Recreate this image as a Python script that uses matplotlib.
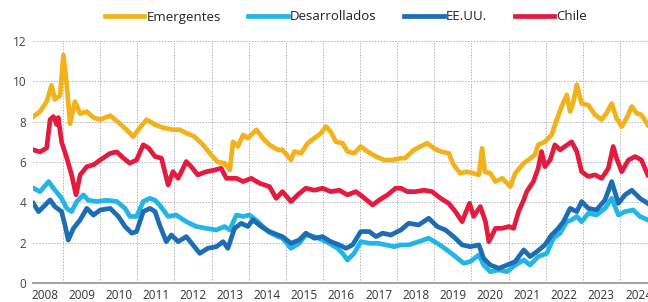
import matplotlib.pyplot as plt
import matplotlib.ticker as mticker

plt.rcParams['font.family'] = ['Open Sans', 'DejaVu Sans']

# spreads (%), x in fractional years
emerg_x = [2008.20, 2008.38, 2008.56, 2008.69, 2008.78, 2008.92, 2009.01, 2009.10, 2009.19, 2009.32,
           2009.46, 2009.64, 2009.82, 2010.00, 2010.27, 2010.53, 2010.71, 2010.89, 2011.07, 2011.25,
           2011.48, 2011.69, 2011.96, 2012.14, 2012.32, 2012.54, 2012.77, 2012.99, 2013.17, 2013.35,
           2013.49, 2013.58, 2013.71, 2013.85, 2013.98, 2014.21, 2014.38, 2014.56, 2014.79, 2014.91,
           2015.14, 2015.23, 2015.41, 2015.59, 2015.77, 2015.95, 2016.08, 2016.21, 2016.35, 2016.53,
           2016.66, 2016.84, 2017.02, 2017.20, 2017.43, 2017.65, 2017.87, 2018.10, 2018.22, 2018.45,
           2018.63, 2018.81, 2018.99, 2019.17, 2019.39, 2019.52, 2019.70, 2019.88, 2020.06, 2020.20,
           2020.29, 2020.36, 2020.51, 2020.65, 2020.83, 2021.05, 2021.18, 2021.41, 2021.53, 2021.71,
           2021.80, 2021.98, 2022.16, 2022.30, 2022.43, 2022.57, 2022.66, 2022.75, 2022.84, 2022.97,
           2023.15, 2023.33, 2023.51, 2023.64, 2023.78, 2023.91, 2024.05, 2024.18, 2024.32, 2024.45,
           2024.58, 2024.75]
emerg_y = [8.25, 8.5, 9.0, 9.8, 9.1, 9.3, 11.3, 9.8, 7.9, 9.0,
           8.4, 8.5, 8.2, 8.1, 8.3, 7.9, 7.6, 7.26, 7.7, 8.1,
           7.85, 7.7, 7.6, 7.6, 7.43, 7.26, 6.85, 6.35, 6.0, 5.94,
           5.6, 7.0, 6.77, 7.34, 7.18, 7.6, 7.18, 6.85, 6.6, 6.6,
           6.1, 6.52, 6.43, 6.93, 7.18, 7.43, 7.76, 7.5, 7.0, 6.93,
           6.52, 6.43, 6.77, 6.52, 6.27, 6.1, 6.1, 6.19, 6.19, 6.6,
           6.77, 6.93, 6.68, 6.52, 6.43, 5.86, 5.44, 5.52, 5.44, 5.36,
           6.68, 5.52, 5.44, 5.03, 5.19, 4.78, 5.44, 5.94, 6.1, 6.35,
           6.85, 7.0, 7.34, 8.1, 8.75, 9.33, 8.5, 9.0, 9.83, 8.9,
           8.82, 8.34, 8.1, 8.42, 8.9, 8.17, 7.76, 8.17, 8.75, 8.42,
           8.34, 7.84]

desarr_x = [2008.20, 2008.38, 2008.61, 2008.74, 2008.83, 2008.96, 2009.10, 2009.23, 2009.37, 2009.55,
            2009.68, 2009.91, 2010.18, 2010.45, 2010.67, 2010.80, 2010.98, 2011.16, 2011.34, 2011.48,
            2011.60, 2011.83, 2012.05, 2012.32, 2012.59, 2012.86, 2013.13, 2013.35, 2013.49, 2013.67,
            2013.85, 2014.02, 2014.25, 2014.52, 2014.79, 2014.91, 2015.14, 2015.36, 2015.54, 2015.77,
            2015.99, 2016.17, 2016.39, 2016.53, 2016.66, 2016.84, 2017.02, 2017.25, 2017.47, 2017.70,
            2017.92, 2018.10, 2018.31, 2018.58, 2018.85, 2019.08, 2019.34, 2019.57, 2019.79, 2019.97,
            2020.20, 2020.33, 2020.51, 2020.74, 2020.96, 2021.18, 2021.41, 2021.58, 2021.80, 2022.03,
            2022.21, 2022.39, 2022.57, 2022.70, 2022.84, 2022.97, 2023.15, 2023.37, 2023.60, 2023.78,
            2023.96, 2024.14, 2024.36, 2024.54, 2024.75]
desarr_y = [4.7, 4.53, 5.03, 4.7, 4.5, 4.2, 3.7, 3.54, 4.04, 4.37,
            4.1, 4.04, 4.1, 4.04, 3.7, 3.3, 3.3, 4.04, 4.2, 4.1,
            3.87, 3.3, 3.37, 3.04, 2.8, 2.71, 2.63, 2.8, 2.63, 3.37,
            3.3, 3.37, 3.04, 2.55, 2.3, 2.22, 1.72, 1.97, 2.38, 2.3,
            2.13, 1.97, 1.72, 1.47, 1.14, 1.47, 2.05, 1.97, 1.97, 1.89,
            1.8, 1.89, 1.89, 2.05, 2.22, 1.97, 1.64, 1.31, 0.98, 1.06,
            1.39, 0.89, 0.56, 0.65, 0.56, 0.89, 1.14, 0.89, 1.31, 1.47,
            2.22, 2.47, 3.04, 3.13, 3.3, 3.04, 3.46, 3.37, 3.7, 4.2,
            3.37, 3.54, 3.62, 3.3, 3.13]

eeuu_x = [2008.20, 2008.34, 2008.52, 2008.65, 2008.78, 2008.96, 2009.05, 2009.14, 2009.28, 2009.46,
          2009.64, 2009.82, 2010.00, 2010.27, 2010.49, 2010.67, 2010.85, 2010.98, 2011.16, 2011.34,
          2011.48, 2011.60, 2011.78, 2011.92, 2012.10, 2012.32, 2012.50, 2012.68, 2012.90, 2013.13,
          2013.31, 2013.44, 2013.62, 2013.80, 2013.98, 2014.11, 2014.34, 2014.56, 2014.79, 2014.91,
          2015.14, 2015.36, 2015.54, 2015.77, 2015.99, 2016.21, 2016.44, 2016.62, 2016.80, 2017.02,
          2017.25, 2017.43, 2017.61, 2017.83, 2018.10, 2018.31, 2018.58, 2018.85, 2019.08, 2019.30,
          2019.52, 2019.75, 2019.97, 2020.20, 2020.33, 2020.51, 2020.74, 2020.96, 2021.18, 2021.41,
          2021.58, 2021.76, 2021.98, 2022.16, 2022.34, 2022.48, 2022.66, 2022.84, 2022.97, 2023.15,
          2023.37, 2023.60, 2023.78, 2023.96, 2024.14, 2024.32, 2024.54, 2024.75]
eeuu_y = [3.95, 3.54, 3.87, 4.12, 3.79, 3.54, 2.88, 2.13, 2.71, 3.13,
          3.7, 3.37, 3.62, 3.7, 3.3, 2.8, 2.47, 2.55, 3.54, 3.7,
          3.54, 2.88, 2.05, 2.38, 2.05, 2.3, 1.89, 1.47, 1.72, 1.8,
          2.05, 1.72, 2.71, 2.96, 2.8, 3.13, 2.8, 2.55, 2.38, 2.3,
          1.97, 2.13, 2.47, 2.22, 2.3, 2.05, 1.89, 1.72, 1.89, 2.55,
          2.55, 2.3, 2.47, 2.38, 2.63, 2.96, 2.88, 3.21, 2.8, 2.63,
          2.3, 1.89, 1.8, 1.89, 1.22, 0.89, 0.73, 0.89, 1.06, 1.64,
          1.31, 1.55, 1.89, 2.38, 2.71, 3.04, 3.7, 3.54, 4.04, 3.7,
          3.62, 4.12, 5.03, 3.95, 4.37, 4.6, 4.2, 3.95]

chile_x = [2008.20, 2008.38, 2008.56, 2008.65, 2008.74, 2008.83, 2008.87, 2008.96, 2009.10, 2009.23,
           2009.35, 2009.46, 2009.64, 2009.82, 2010.00, 2010.27, 2010.45, 2010.62, 2010.80, 2010.98,
           2011.16, 2011.30, 2011.48, 2011.65, 2011.83, 2011.96, 2012.10, 2012.32, 2012.45, 2012.63,
           2012.86, 2013.08, 2013.26, 2013.40, 2013.67, 2013.85, 2014.07, 2014.29, 2014.56, 2014.74,
           2014.91, 2015.14, 2015.32, 2015.54, 2015.77, 2015.99, 2016.21, 2016.44, 2016.66, 2016.89,
           2017.07, 2017.34, 2017.52, 2017.74, 2017.96, 2018.10, 2018.27, 2018.49, 2018.72, 2018.94,
           2019.17, 2019.39, 2019.57, 2019.75, 2019.84, 2019.95, 2020.06, 2020.24, 2020.38, 2020.47,
           2020.65, 2020.83, 2021.01, 2021.14, 2021.27, 2021.41, 2021.49, 2021.67, 2021.80, 2021.89,
           2021.98, 2022.12, 2022.25, 2022.39, 2022.52, 2022.70, 2022.84, 2022.97, 2023.15, 2023.33,
           2023.51, 2023.69, 2023.82, 2023.91, 2024.05, 2024.23, 2024.41, 2024.58, 2024.75]
chile_y = [6.6, 6.5, 6.7, 8.1, 8.25, 7.85, 8.2, 7.0, 6.2, 5.36,
           4.37, 5.36, 5.77, 5.86, 6.1, 6.43, 6.5, 6.2, 5.94, 6.1,
           6.85, 6.7, 6.27, 6.19, 4.86, 5.52, 5.19, 6.02, 5.77, 5.36,
           5.52, 5.6, 5.69, 5.19, 5.19, 5.03, 5.19, 4.95, 4.78, 4.2,
           4.53, 4.04, 4.37, 4.7, 4.6, 4.7, 4.53, 4.6, 4.37, 4.53,
           4.28, 3.87, 4.12, 4.37, 4.7, 4.7, 4.53, 4.53, 4.6, 4.53,
           4.2, 3.95, 3.54, 3.04, 3.46, 3.95, 3.3, 3.79, 3.04, 2.05,
           2.71, 2.71, 2.8, 2.71, 3.54, 4.12, 4.53, 5.03, 5.69, 6.52,
           5.77, 6.1, 6.85, 6.6, 6.77, 7.0, 6.52, 5.52, 5.28, 5.36,
           5.19, 5.69, 6.77, 6.19, 5.52, 6.1, 6.27, 6.1, 5.36]

series = [("Emergentes", emerg_x, emerg_y, "#F3B21C"),
          ("Desarrollados", desarr_x, desarr_y, "#22B5E6"),
          ("EE.UU.", eeuu_x, eeuu_y, "#1D6DB5"),
          ("Chile", chile_x, chile_y, "#E21B3F")]

years = list(range(2008, 2025))

fig = plt.figure(figsize=(6.48, 3.02), dpi=100)
ax = fig.add_axes([33 / 648, 19 / 302, 624 / 648, 242 / 302])

for name, x, y, c in series:
    ax.plot(x, y, color=c, lw=3.4, label=name, solid_joinstyle="round")

ax.set_xlim(2008.19, 2025.0)
ax.set_ylim(0, 12)

# year gridlines at boundaries, labels centred in each year
ax.xaxis.set_major_locator(mticker.FixedLocator(years[1:]))
ax.xaxis.set_major_formatter(mticker.NullFormatter())
ax.xaxis.set_minor_locator(mticker.FixedLocator([yr + 0.5 for yr in years]))
ax.xaxis.set_minor_formatter(mticker.FixedFormatter([str(yr) for yr in years]))
ax.tick_params(axis="x", which="both", length=0, pad=4, labelsize=8.5, labelcolor="#333333")
ax.set_yticks([0, 2, 4, 6, 8, 10, 12])
ax.tick_params(axis="y", length=0, pad=5, labelsize=8.5, labelcolor="#444444")

ax.grid(True, which="major", color="#b5b5b5", linestyle=(0, (1.5, 1.5)), linewidth=0.7)
ax.set_axisbelow(True)
for s in ["top", "right", "left"]:
    ax.spines[s].set_visible(False)
ax.spines["bottom"].set_color("#9a9a9a")
ax.spines["bottom"].set_linewidth(1.3)

fig.legend(loc="center", bbox_to_anchor=(346 / 648, 1 - 17 / 302), ncol=4, frameon=False,
           fontsize=9.5, handlelength=3.0, handletextpad=0.15, columnspacing=2.1,
           labelcolor="#222222")

fig.savefig("out.png", dpi=100)
